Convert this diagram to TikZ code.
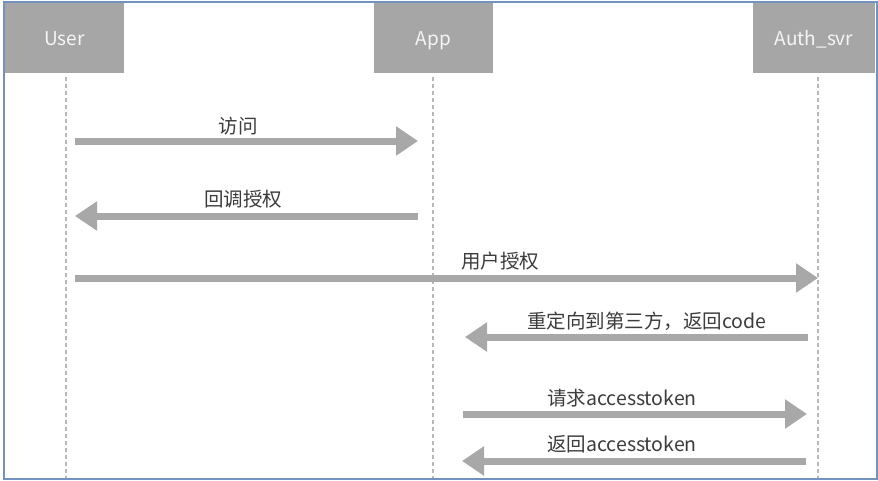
\documentclass[tikz,border=0pt]{standalone}
\usepackage{fontspec}
\setmainfont{Noto Sans CJK SC}
\usetikzlibrary{arrows.meta}
\definecolor{boxgray}{HTML}{A6A6A6}
\definecolor{arrgray}{HTML}{A8A8A8}
\definecolor{lifegray}{HTML}{B8B8B8}
\definecolor{framebl}{HTML}{7393BE}
\definecolor{txtgray}{HTML}{3C3C3C}
\tikzset{
  actor/.style={fill=boxgray, draw=none, minimum width=119pt, minimum height=70pt, inner sep=0pt,
    text height=16pt, text depth=2pt,
    text=white!96!black, font=\fontsize{19}{22}\selectfont},
  lifeline/.style={draw=lifegray, line width=1.3pt, dash pattern=on 4pt off 3pt},
  msg/.style={draw=arrgray, line width=7pt, -{Triangle[length=22pt,width=28pt]}},
  msglabel/.style={text=txtgray, font=\fontsize{19.5}{22}\selectfont, inner sep=0pt},
}
\begin{document}
\begin{tikzpicture}[x=1pt,y=-1pt]
\useasboundingbox (0,0) rectangle (878,480);
\fill[white] (0,0) rectangle (878,480);
% actors
\node[actor] (user) at (64.5,38) {User};
\node[actor] (app) at (433.5,38) {App};
\node[actor, minimum width=122pt] (auth) at (814,38) {Auth\_svr};
% lifelines
\coordinate (userend) at (66,478);
\coordinate (append) at (433,478);
\coordinate (authend) at (818,478);
\coordinate (usertop) at (66,77);
\coordinate (apptop) at (433,77);
\coordinate (authtop) at (818,77);
\draw[lifeline] (usertop) -- (userend);
\draw[lifeline] (apptop) -- (append);
\draw[lifeline] (authtop) -- (authend);
% message end points
\coordinate (m1a) at (75,141);  \coordinate (m1b) at (418,141);
\coordinate (m2a) at (418,216); \coordinate (m2b) at (75,216);
\coordinate (m3a) at (75,278);  \coordinate (m3b) at (818,278);
\coordinate (m4a) at (808,337); \coordinate (m4b) at (465,337);
\coordinate (m5a) at (463,414); \coordinate (m5b) at (807,414);
\coordinate (m6a) at (806,461); \coordinate (m6b) at (462,461);
\draw[msg] (m1a) -- (m1b);
\draw[msg] (m2a) -- (m2b);
\draw[msg] (m3a) -- (m3b);
\draw[msg] (m4a) -- (m4b);
\draw[msg] (m5a) -- (m5b);
\draw[msg] (m6a) -- (m6b);
% labels
\node[msglabel] (l1) at (238,126) {访问};
\node[msglabel] (l2) at (243,199) {回调授权};
\node[msglabel] (l3) at (500,261) {用户授权};
\node[msglabel] (l4) at (647,321) {重定向到第三方，返回code};
\node[msglabel] (l5) at (622,398) {请求accesstoken};
\node[msglabel] (l6) at (622,444) {返回accesstoken};
% frame
\draw[framebl, line width=2pt] (4,1.5) rectangle (877,479);
\end{tikzpicture}
\end{document}
